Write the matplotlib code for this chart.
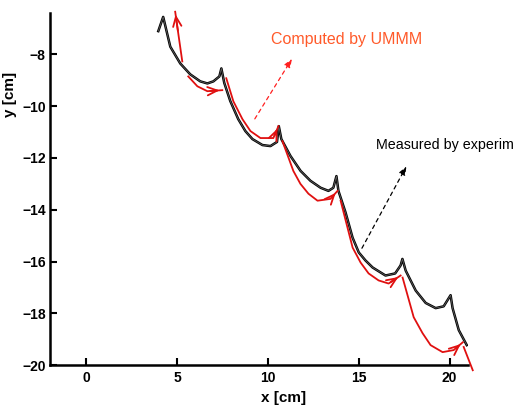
import numpy as np
import matplotlib.pyplot as plt

# measured trajectory (black)
meas_x = [3.97, 4.24, 4.63, 5.18, 5.73, 6.28, 6.67, 7.00, 7.33, 7.44, 7.60, 7.93, 8.37,
          8.76, 9.15, 9.70, 10.14, 10.50, 10.60, 10.74, 11.24, 11.80, 12.34, 12.90,
          13.33, 13.60, 13.77, 13.88, 14.27, 14.66, 15.00, 15.37, 15.76, 16.47, 17.00,
          17.30, 17.40, 17.58, 18.13, 18.68, 19.23, 19.67, 20.05, 20.16, 20.50, 20.94]
meas_y = [-7.10, -6.55, -7.70, -8.35, -8.77, -9.04, -9.12, -9.04, -8.85, -8.54, -9.10,
          -9.80, -10.50, -10.96, -11.27, -11.50, -11.54, -11.38, -10.77, -11.27, -11.92,
          -12.50, -12.88, -13.15, -13.27, -13.15, -12.70, -13.27, -14.10, -15.08, -15.65,
          -15.96, -16.23, -16.54, -16.46, -16.15, -15.90, -16.35, -17.12, -17.60, -17.80,
          -17.73, -17.30, -17.80, -18.65, -19.23]

# computed trajectory (red), one list per arc, each ends with an arrow
comp_arcs_x = [
    [5.29, 5.07, 4.90],
    [5.62, 6.12, 6.67, 7.49],
    [7.71, 8.10, 8.60, 9.04, 9.59, 10.30, 10.58],
    [10.80, 11.40, 11.79, 12.23, 12.73, 13.44, 13.83],
    [14.00, 14.66, 15.10, 15.54, 16.09, 16.64, 17.30],
    [17.41, 18.02, 18.51, 18.95, 19.61, 20.22, 20.72],
    [20.77, 21.27],
]
comp_arcs_y = [
    [-8.27, -7.19, -6.35],
    [-8.85, -9.23, -9.42, -9.38],
    [-8.92, -9.81, -10.50, -10.96, -11.23, -11.23, -10.77],
    [-11.35, -12.50, -13.00, -13.38, -13.65, -13.58, -13.27],
    [-13.65, -15.46, -16.04, -16.46, -16.73, -16.85, -16.54],
    [-16.62, -18.15, -18.77, -19.23, -19.50, -19.42, -19.12],
    [-19.30, -20.20],
]

bold = dict(family=['Liberation Sans', 'DejaVu Sans'], fontweight='bold')
thin = ['Liberation Sans', 'DejaVu Sans']

fig = plt.figure(figsize=(5.13, 4.07), dpi=100)
ax = fig.add_axes([0.097, 0.103, 0.815, 0.865])

ax.plot(meas_x, meas_y, color='black', lw=1.8)
ax.plot(meas_x, meas_y, color='0.45', lw=0.6, alpha=0.8)

for xs, ys in zip(comp_arcs_x, comp_arcs_y):
    ax.plot(xs, ys, color='#e01010', lw=1.3, clip_on=False)
    if len(xs) > 2:
        ax.annotate('', xy=(xs[-1], ys[-1]), xytext=(xs[-2], ys[-2]),
                    arrowprops=dict(arrowstyle='->,head_length=0.7,head_width=0.3',
                                    color='#e01010', lw=1.3),
                    annotation_clip=False)

# annotations
ax.annotate('', xy=(11.40, -8.08), xytext=(9.2, -10.58),
            arrowprops=dict(arrowstyle='-|>,head_length=0.5,head_width=0.2',
                            color='#ff2020', lw=0.9, ls=(0, (3, 3))))
ax.text(10.15, -7.6, 'Computed by UMMM', color='#ff5a2a', fontsize=11.5,
        family=thin)
ax.annotate('', xy=(17.69, -12.23), xytext=(15.1, -15.58),
            arrowprops=dict(arrowstyle='-|>,head_length=0.5,head_width=0.2',
                            color='black', lw=0.9, ls=(0, (3, 3))))
ax.text(15.95, -11.65, 'Measured by experim', color='black', fontsize=10.3,
        family=thin, clip_on=False)

ax.set_xlim(-2, 21)
ax.set_ylim(-20, -6.4)
ax.set_xticks([0, 5, 10, 15, 20])
ax.set_yticks([-8, -10, -12, -14, -16, -18, -20])
for s in ['top', 'right']:
    ax.spines[s].set_visible(False)
ax.spines['left'].set_linewidth(1.8)
ax.spines['bottom'].set_linewidth(1.8)
ax.tick_params(direction='in', length=5, width=1.5, pad=4)
ax.tick_params(axis='y', pad=3)
for lab in ax.get_xticklabels() + ax.get_yticklabels():
    lab.set_fontsize(10)
    lab.set_fontweight('bold')
    lab.set_family(['Liberation Sans', 'DejaVu Sans'])

ax.set_xlabel('x [cm]', fontsize=11, **bold)
ax.xaxis.set_label_coords(0.56, -0.075)
ax.set_ylabel('y [cm]', fontsize=11, **bold)
ax.yaxis.set_label_coords(-0.078, 0.77)

fig.savefig('out.png', dpi=100)
